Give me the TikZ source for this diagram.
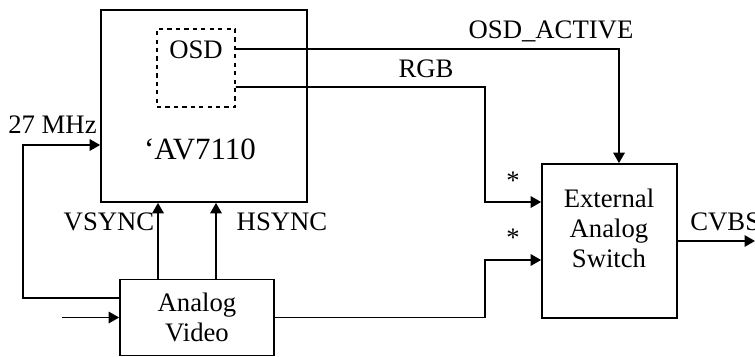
\documentclass[tikz,border=0pt]{standalone}
\usepackage{fontspec}
\setmainfont{Liberation Serif}
\usetikzlibrary{arrows.meta,positioning}
\tikzstyle{block} = [rectangle, draw=black, line width=1pt, inner sep=0pt]
\tikzstyle{osdbox} = [rectangle, draw=black, line width=1pt, dash pattern=on 2.4pt off 2.4pt, minimum size=1.56cm]
\tikzstyle{arrow} = [-{Triangle[length=2.1mm,width=2.3mm]}, line width=1pt]
\tikzstyle{lbl} = [inner sep=0pt, font=\fontsize{15.2}{17}\selectfont]

\begin{document}
\begin{tikzpicture}[x=0.02cm, y=-0.02cm]
\useasboundingbox (0,0) rectangle (755,356);
% decoder chip with the OSD unit
\node[block, minimum width=4.12cm, minimum height=3.84cm] (av) at (204,106) {};
\node[osdbox] (osd) at (196,68) {};
\node[lbl, anchor=base] (osdtext) at (196,58) {OSD};
\node[lbl, anchor=base, font=\fontsize{17.6}{20}\selectfont] (avtext) at (200,159) {`AV7110};

% analog video source
\node[block, lbl, minimum width=3.08cm, minimum height=1.52cm, align=center] (video) at (197,317.5) {Analog\\Video};

% external switch
\node[block, minimum width=2.7cm, minimum height=3.08cm] (switch) at (609.5,241) {};
\node[lbl, align=center] (switchtext) at (609,228) {External\\Analog\\Switch};

\coordinate (rgbbend) at (485,87);
\coordinate (vidbend) at (485,317.5);
\coordinate (vin) at (62,317.5);
\coordinate (cvbs) at (755,241);

\draw[arrow] ([yshift=0.38cm]osd.east) -| ([xshift=0.19cm]switch.north);
\draw[arrow] ([yshift=-0.38cm]osd.east) -- (rgbbend) |- ([yshift=0.78cm]switch.west);
\draw[arrow] (video.east) -- (vidbend) |- ([yshift=-0.38cm]switch.west);
\draw[arrow] ([xshift=-0.78cm]video.north) -- ([xshift=-0.78cm]video.north |- av.south);
\draw[arrow] ([xshift=0.38cm]video.north) -- ([xshift=0.38cm]video.north |- av.south);
\draw[arrow] ([yshift=0.39cm]video.west) -- ++(-96,0) |- ([yshift=-0.78cm]av.west);
\draw[arrow] (vin) -- (video.west);
\draw[arrow] (switch.east) -- (cvbs);

% signal labels
\node[lbl, anchor=base] (clklbl) at (52.5,133) {27 MHz};
\node[lbl, anchor=base] (vsynclbl) at (109,230) {VSYNC};
\node[lbl, anchor=base] (hsynclbl) at (282,230) {HSYNC};
\node[lbl, anchor=base] (activelbl) at (551,38) {OSD\_ACTIVE};
\node[lbl, anchor=base] (rgblbl) at (426,77) {RGB};
\node[lbl] (staron) at (513,181) {*};
\node[lbl] (staroff) at (513,238) {*};
\node[lbl, anchor=base west] (cvbslbl) at (690,230) {CVBS};
\end{tikzpicture}
\end{document}
